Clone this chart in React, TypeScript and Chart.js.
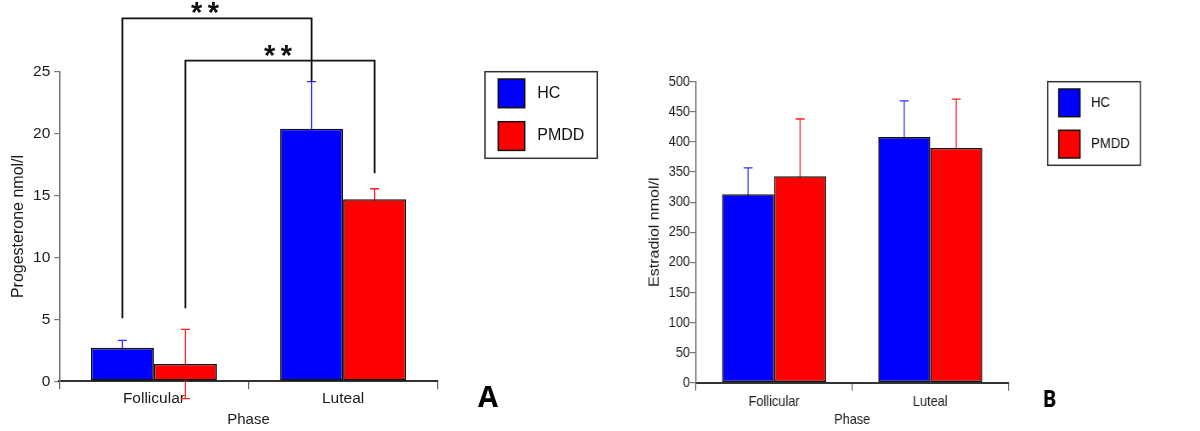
import { useEffect, useRef } from "react";
import { Chart, registerables } from "chart.js";

Chart.register(...registerables);

const phases = ["Follicular", "Luteal"];
const groups = ["HC", "PMDD"];
const groupColors = ["#0000ff", "#ff0000"];
const whiskerColors = ["#3030ff", "#ff2020"];

// panel A: progesterone (nmol/l), mean and SD
const progesteroneHC = [2.7, 20.4];
const progesteronePMDD = [1.4, 14.7];
const progesteroneErrHC = [0.6, 3.8];
const progesteroneErrPMDD = [2.8, 0.85];
const progesteroneTicks = [0, 5, 10, 15, 20, 25];

// panel B: estradiol (nmol/l), mean and SD
const estradiolHC = [313, 408];
const estradiolPMDD = [343, 390];
const estradiolErrHC = [44, 60];
const estradiolErrPMDD = [95, 81];
const estradiolTicks = [0, 50, 100, 150, 200, 250, 300, 350, 400, 450, 500];

// significance brackets in panel A (value units): group, leg starts, top bar
const progesteroneBrackets = [
  { dataset: 0, from: 0, to: 1, startY: 5.1, topY: 29.3, endY: 24.2, label: "**" },
  { dataset: 1, from: 0, to: 1, startY: 5.9, topY: 25.9, endY: 16.8, label: "**" },
];

const SANS = "'Liberation Sans', Arial, sans-serif";
const HEIGHT = 431;

type PanelSpec = {
  left: number;
  width: number;
  scaleX: number;
  hc: number[];
  pmdd: number[];
  errors: number[][];
  ticks: number[];
  yTitle: string;
  area: { left: number; top: number; right: number; bottom: number };
  tickSize: number;
  yTickLength: number;
  yTickPad: number;
  xTickPad: number;
  yTitlePad: number;
  capHalf: number;
  brackets: typeof progesteroneBrackets;
  starShift: number[];
  legend: {
    x: number;
    y: number;
    w: number;
    h: number;
    sqLeft: number;
    sqW: number;
    sqH: number;
    rowTop: number[];
    textLeft: number;
  };
  letter: { text: string; x: number; y: number; size: number };
};

const panelA: PanelSpec = {
  left: 0,
  width: 600,
  scaleX: 1,
  hc: progesteroneHC,
  pmdd: progesteronePMDD,
  errors: [progesteroneErrHC, progesteroneErrPMDD],
  ticks: progesteroneTicks,
  yTitle: "Progesterone nmol/l",
  area: { left: 59.3, top: 71.7, right: 437.7, bottom: 381.3 },
  tickSize: 15.5,
  yTickLength: 5,
  yTickPad: 4,
  xTickPad: 0,
  yTitlePad: 9.4,
  capHalf: 4.5,
  brackets: progesteroneBrackets,
  starShift: [-12, -2],
  legend: { x: 485, y: 71.7, w: 112.3, h: 86.6, sqLeft: 13.3, sqW: 26.4, sqH: 28.7, rowTop: [7.3, 50], textLeft: 52.3 },
  letter: { text: "A", x: 478, y: 407.3, size: 29 },
};

// panel B is drawn wider and squeezed horizontally, like the source figure
const B_SCALE = 0.85;
const bx = (v: number) => v / B_SCALE;

const panelB: PanelSpec = {
  left: 600,
  width: Math.round(bx(600)),
  scaleX: B_SCALE,
  hc: estradiolHC,
  pmdd: estradiolPMDD,
  errors: [estradiolErrHC, estradiolErrPMDD],
  ticks: estradiolTicks,
  yTitle: "Estradiol nmol/l",
  area: { left: bx(96), top: 81.7, right: bx(408.3), bottom: 382.7 },
  tickSize: 15,
  yTickLength: bx(6),
  yTickPad: 0,
  xTickPad: 2,
  yTitlePad: bx(55) - 9.6,
  capHalf: bx(4.5),
  brackets: [],
  starShift: [],
  legend: {
    x: bx(447.7),
    y: 81.7,
    w: bx(92.6),
    h: 83.6,
    sqLeft: bx(11),
    sqW: bx(21.3),
    sqH: 27.7,
    rowTop: [7.3, 48.6],
    textLeft: bx(43.3),
  },
  letter: { text: "B", x: bx(442.7), y: 406.7, size: 24 },
};

const whiskerPlugin = {
  id: "whiskers",
  beforeDatasetsDraw(chart: any, _args: any, opts: any) {
    const ctx = chart.ctx as CanvasRenderingContext2D;
    const y = chart.scales.y;
    const half = opts.capHalf;
    ctx.save();
    ctx.lineWidth = 1.3;
    chart.data.datasets.forEach((ds: any, i: number) => {
      const meta = chart.getDatasetMeta(i);
      ctx.strokeStyle = opts.colors[i];
      meta.data.forEach((el: any, j: number) => {
        const v = ds.data[j] as number;
        const e = opts.errors[i][j];
        const top = y.getPixelForValue(v + e);
        const bottom = y.getPixelForValue(v - e);
        ctx.beginPath();
        ctx.moveTo(el.x, top);
        ctx.lineTo(el.x, bottom);
        ctx.moveTo(el.x - half, top);
        ctx.lineTo(el.x + half, top);
        ctx.moveTo(el.x - half, bottom);
        ctx.lineTo(el.x + half, bottom);
        ctx.stroke();
      });
    });
    ctx.restore();
  },
};

const decorPlugin = {
  id: "decor",
  afterDraw(chart: any, _args: any, opts: any) {
    const ctx = chart.ctx as CanvasRenderingContext2D;
    const y = chart.scales.y;
    const spec: PanelSpec = opts.spec;
    ctx.save();

    // significance brackets
    ctx.strokeStyle = "#111";
    ctx.fillStyle = "#111";
    ctx.lineWidth = 1.8;
    spec.brackets.forEach((b, k) => {
      const meta = chart.getDatasetMeta(b.dataset);
      const x1 = meta.data[b.from].x;
      const x2 = meta.data[b.to].x;
      const top = y.getPixelForValue(b.topY);
      ctx.beginPath();
      ctx.moveTo(x1, y.getPixelForValue(b.startY));
      ctx.lineTo(x1, top);
      ctx.lineTo(x2, top);
      ctx.lineTo(x2, y.getPixelForValue(b.endY));
      ctx.stroke();

      ctx.font = `bold 100px ${SANS}`;
      const m = ctx.measureText("*");
      const h100 = m.actualBoundingBoxAscent + m.actualBoundingBoxDescent;
      const size = (11 * 100) / h100;
      ctx.font = `bold ${size}px ${SANS}`;
      ctx.textAlign = "center";
      ctx.textBaseline = "alphabetic";
      const mm = ctx.measureText("*");
      const cy = top - 10;
      const baseY = cy + (mm.actualBoundingBoxAscent - mm.actualBoundingBoxDescent) / 2;
      const cx = (x1 + x2) / 2 + (spec.starShift[k] || 0);
      const stars = b.label.split("");
      stars.forEach((s, si) => {
        const off = (si - (stars.length - 1) / 2) * 16.6;
        ctx.fillText(s, cx + off, baseY);
      });
    });

    // framed legend
    const L = spec.legend;
    ctx.lineWidth = 1.5;
    ctx.strokeStyle = "#333";
    ctx.strokeRect(L.x, L.y, L.w, L.h);
    chart.data.datasets.forEach((ds: any, i: number) => {
      const sy = L.y + L.rowTop[i];
      ctx.fillStyle = ds.backgroundColor;
      ctx.fillRect(L.x + L.sqLeft, sy, L.sqW, L.sqH);
      ctx.strokeStyle = "#111";
      ctx.strokeRect(L.x + L.sqLeft, sy, L.sqW, L.sqH);
      ctx.fillStyle = "#111";
      ctx.font = `${spec.tickSize + 0.5}px ${SANS}`;
      ctx.textAlign = "left";
      ctx.textBaseline = "middle";
      ctx.fillText(ds.label, L.x + L.textLeft, sy + L.sqH / 2);
    });

    // panel letter
    ctx.fillStyle = "#000";
    ctx.font = `bold ${spec.letter.size}px 'Open Sans', 'Liberation Sans', sans-serif`;
    ctx.textAlign = "left";
    ctx.textBaseline = "alphabetic";
    ctx.fillText(spec.letter.text, spec.letter.x, spec.letter.y);
    ctx.restore();
  },
};

function buildConfig(spec: PanelSpec): any {
  const tickFont = { family: SANS, size: spec.tickSize };
  const barStyle = {
    borderColor: "#111",
    borderWidth: 1.6,
    borderSkipped: false,
    categoryPercentage: 0.666,
    barPercentage: 1,
  };
  return {
    type: "bar",
    data: {
      labels: phases,
      datasets: [
        { label: groups[0], data: spec.hc, backgroundColor: groupColors[0], ...barStyle },
        { label: groups[1], data: spec.pmdd, backgroundColor: groupColors[1], ...barStyle },
      ],
    },
    options: {
      responsive: false,
      animation: false,
      devicePixelRatio: 1,
      layout: {
        padding: { top: spec.area.top, right: spec.width - spec.area.right, bottom: 0, left: 0 },
      },
      scales: {
        x: {
          afterFit: (s: any) => {
            s.height = HEIGHT - spec.area.bottom;
          },
          border: { display: true, color: "#333", width: 2 },
          grid: { drawOnChartArea: false, tickLength: 8, color: "#666", lineWidth: 1.2 },
          ticks: { color: "#1a1a1a", font: tickFont, padding: spec.xTickPad },
          title: {
            display: true,
            text: "Phase",
            color: "#1a1a1a",
            font: { family: SANS, size: 15 },
            padding: { top: 0, bottom: 2 },
          },
        },
        y: {
          min: spec.ticks[0],
          max: spec.ticks[spec.ticks.length - 1],
          afterFit: (s: any) => {
            s.width = spec.area.left;
          },
          afterBuildTicks: (s: any) => {
            s.ticks = spec.ticks.map((v) => ({ value: v }));
          },
          border: { display: true, color: "#777", width: 1.5 },
          grid: { drawOnChartArea: false, tickLength: spec.yTickLength, color: "#777", lineWidth: 1.2 },
          ticks: { color: "#1a1a1a", font: tickFont, padding: spec.yTickPad },
          title: {
            display: true,
            text: spec.yTitle,
            color: "#1a1a1a",
            font: { family: SANS, size: 16 },
            padding: { top: spec.yTitlePad, bottom: 0 },
          },
        },
      },
      plugins: {
        legend: { display: false },
        tooltip: { enabled: false },
        whiskers: { errors: spec.errors, colors: whiskerColors, capHalf: spec.capHalf },
        decor: { spec },
      },
    },
    plugins: [whiskerPlugin, decorPlugin],
  };
}

function BarPanel({ spec }: { spec: PanelSpec }) {
  const canvasRef = useRef<HTMLCanvasElement | null>(null);

  useEffect(() => {
    if (!canvasRef.current) return;
    const chart = new Chart(canvasRef.current, buildConfig(spec));
    return () => {
      chart.destroy();
    };
  }, [spec]);

  return (
    <canvas
      ref={canvasRef}
      width={spec.width}
      height={HEIGHT}
      style={{
        position: "absolute",
        left: spec.left,
        top: 0,
        width: spec.width,
        height: HEIGHT,
        transform: `scaleX(${spec.scaleX})`,
        transformOrigin: "0 0",
      }}
    />
  );
}

export default function App() {
  useEffect(() => {
    document.body.style.margin = "0";
    document.body.style.background = "#fff";
  }, []);

  return (
    <div style={{ position: "relative", width: 1200, height: HEIGHT, background: "#fff", overflow: "hidden" }}>
      <BarPanel spec={panelA} />
      <BarPanel spec={panelB} />
    </div>
  );
}
